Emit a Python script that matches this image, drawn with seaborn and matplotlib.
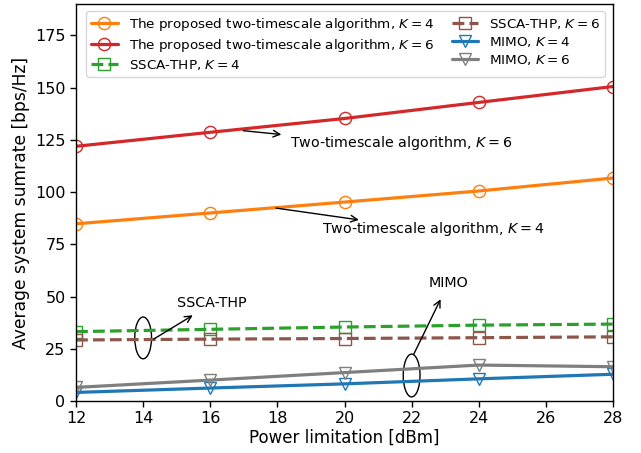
import matplotlib
matplotlib.use("Agg")
import matplotlib.pyplot as plt
import seaborn as sns
from matplotlib.patches import Ellipse

power = [12, 16, 20, 24, 28]
proposed_k4 = [84.8, 90.0, 95.2, 100.5, 106.7]
proposed_k6 = [121.9, 128.6, 135.2, 142.9, 150.5]
ssca_k4 = [33.2, 34.3, 35.4, 36.3, 36.8]
ssca_k6 = [29.2, 29.6, 29.9, 30.3, 30.7]
mimo_k4 = [4.1, 6.2, 8.2, 10.6, 12.8]
mimo_k6 = [6.5, 10.0, 13.6, 17.2, 16.4]

series = [
    ("The proposed two-timescale algorithm, $K=4$", proposed_k4, "tab:orange", "o", "-"),
    ("The proposed two-timescale algorithm, $K=6$", proposed_k6, "tab:red", "o", "-"),
    ("SSCA-THP, $K=4$", ssca_k4, "tab:green", "s", "--"),
    ("SSCA-THP, $K=6$", ssca_k6, "tab:brown", "s", "--"),
    ("MIMO, $K=4$", mimo_k4, "tab:blue", "v", "-"),
    ("MIMO, $K=6$", mimo_k6, "tab:gray", "v", "-"),
]

sns.set_theme(style="ticks")
plt.rcParams['font.family'] = ['DejaVu Sans']
plt.rcParams['mathtext.fontset'] = 'dejavusans'
plt.rcParams['text.color'] = 'black'
plt.rcParams['axes.labelcolor'] = 'black'

fig = plt.figure(figsize=(6.41, 4.53), dpi=100)
ax = fig.add_axes([0.1186, 0.1148, 0.8377, 0.8764])

for label, vals, col, mk, ls in series:
    sns.lineplot(x=power, y=vals, ax=ax, color=col, marker=mk, markersize=8.8 if mk == "o" else 9,
                 markerfacecolor="none", markeredgecolor=col, markeredgewidth=1.0,
                 linewidth=2.3, linestyle=ls, label=label)

ax.set_xlim(12, 28)
ax.set_ylim(0, 190)
ax.set_xticks([12, 14, 16, 18, 20, 22, 24, 26, 28])
ax.set_yticks([0, 25, 50, 75, 100, 125, 150, 175])
ax.tick_params(labelsize=11.5, direction="out", length=4, width=1, colors="black")
for s in ax.spines.values():
    s.set_color("black")
    s.set_linewidth(1.0)
ax.set_xlabel("Power limitation [dBm]", fontsize=12, labelpad=2)
ax.set_ylabel("Average system sumrate [bps/Hz]", fontsize=12.3, labelpad=4)

leg = ax.legend(loc="upper left", ncol=2, fontsize=9.7, frameon=True,
                handlelength=2.0, columnspacing=1.35, borderaxespad=0.35,
                labelspacing=0.3, borderpad=0.35,
                bbox_to_anchor=(0.01, 0.994))
leg.get_frame().set_edgecolor("#cccccc")
for t in leg.get_texts():
    t.set_color("black")

arrow = dict(arrowstyle="->", color="black", lw=1.0)
ax.annotate("", xy=(18.2, 127.4), xytext=(16.9, 129.5), arrowprops=arrow)
ax.text(18.38, 123.3, "Two-timescale algorithm, $K=6$", fontsize=10.3, va="center", ha="left")
ax.annotate("", xy=(20.51, 86.5), xytext=(17.88, 92.5), arrowprops=arrow)
ax.text(19.32, 82.2, "Two-timescale algorithm, $K=4$", fontsize=10.3, va="center", ha="left")

ax.add_patch(Ellipse((14.0, 30.2), 0.5, 20.0, fill=False, edgecolor="black", lw=1.0))
ax.annotate("", xy=(15.55, 41.7), xytext=(14.25, 29.0), arrowprops=arrow)
ax.text(15.0, 47.0, "SSCA-THP", fontsize=10.3, va="center", ha="left")

ax.add_patch(Ellipse((22.0, 12.2), 0.5, 20.5, fill=False, edgecolor="black", lw=1.0))
ax.annotate("", xy=(22.9, 49.9), xytext=(22.03, 21.3), arrowprops=arrow)
ax.text(23.1, 56.7, "MIMO", fontsize=10.3, va="center", ha="center")

fig.savefig("out.png", dpi=100)
